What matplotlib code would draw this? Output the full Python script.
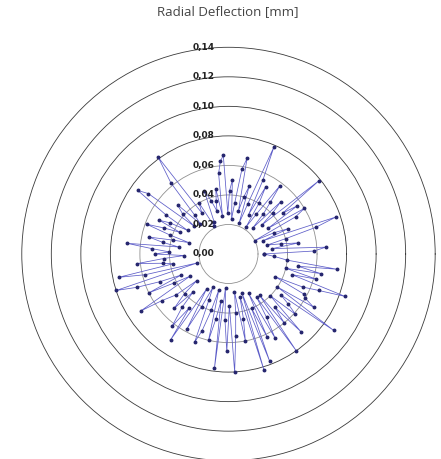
import numpy as np
import matplotlib
matplotlib.use("Agg")
import matplotlib.pyplot as plt
from matplotlib.transforms import ScaledTranslation

# Messwerte: Winkel [Grad] und radiale Auslenkung [mm]
angle_deg = [0, 2, 4, 7, 9, 11, 13, 15, 17, 19,
             21, 23, 25, 27, 29, 31, 33, 35, 37, 39,
             41, 43, 45, 47, 49, 51, 53, 55, 57, 59,
             61, 63, 65, 67, 69, 71, 73, 75, 77, 79,
             81, 83, 85, 87, 89, 91, 93, 95, 97, 99,
             101, 103, 105, 108, 111, 114, 117, 120, 123, 126,
             129, 131, 133, 136, 139, 141, 143, 145, 148, 150,
             152, 154, 156, 158, 160, 162, 164, 166, 168, 170,
             172, 174, 176, 178, 180, 182, 184, 186, 188, 190,
             192, 194, 196, 198, 200, 202, 204, 206, 208, 210,
             213, 215, 218, 220, 222, 225, 227, 229, 232, 234,
             236, 238, 241, 243, 245, 247, 249, 251, 253, 255,
             257, 259, 261, 263, 265, 267, 269, 271, 273, 275,
             277, 279, 281, 283, 285, 287, 289, 291, 293, 295,
             297, 299, 301, 303, 305, 307, 309, 311, 313, 315,
             318, 320, 322, 324, 326, 328, 330, 332, 334, 336,
             338, 340, 342, 344, 346, 348, 350, 352, 354, 357]
deflection = [0.024, 0.058, 0.066, 0.030, 0.048, 0.036, 0.027, 0.040, 0.062, 0.077,
              0.025, 0.044, 0.034, 0.020, 0.052, 0.060, 0.032, 0.057, 0.046, 0.079,
              0.030, 0.041, 0.050, 0.024, 0.036, 0.045, 0.058, 0.033, 0.022, 0.040,
              0.052, 0.030, 0.055, 0.079, 0.036, 0.022, 0.048, 0.040, 0.030, 0.066,
              0.058, 0.035, 0.024, 0.050, 0.043, 0.028, 0.067, 0.063, 0.055, 0.026,
              0.045, 0.037, 0.030, 0.038, 0.046, 0.024, 0.021, 0.040, 0.033, 0.081,
              0.062, 0.035, 0.028, 0.048, 0.041, 0.030, 0.068, 0.075, 0.050, 0.032,
              0.045, 0.052, 0.036, 0.047, 0.059, 0.042, 0.028, 0.039, 0.055, 0.045,
              0.034, 0.069, 0.052, 0.040, 0.050, 0.030, 0.044, 0.062, 0.045, 0.038,
              0.076, 0.058, 0.022, 0.080, 0.066, 0.050, 0.035, 0.060, 0.042, 0.030,
              0.071, 0.055, 0.045, 0.028, 0.040, 0.052, 0.035, 0.048, 0.062, 0.045,
              0.070, 0.028, 0.058, 0.040, 0.025, 0.034, 0.064, 0.055, 0.040, 0.025,
              0.060, 0.045, 0.032, 0.078, 0.023, 0.045, 0.066, 0.035, 0.080, 0.056,
              0.040, 0.026, 0.060, 0.045, 0.030, 0.082, 0.028, 0.078, 0.040, 0.062,
              0.030, 0.065, 0.050, 0.035, 0.080, 0.035, 0.060, 0.048, 0.072, 0.040,
              0.061, 0.053, 0.045, 0.088, 0.040, 0.068, 0.060, 0.058, 0.035, 0.055,
              0.066, 0.084, 0.045, 0.062, 0.040, 0.064, 0.048, 0.074, 0.040, 0.031]

ring_values = [0.00, 0.02, 0.04, 0.06, 0.08, 0.10, 0.12, 0.14]
ring_labels = ["0,00", "0,02", "0,04", "0,06", "0,08", "0,10", "0,12", "0,14"]

fig = plt.figure(figsize=(4.41, 4.59), dpi=100)
ax = fig.add_axes([0.0494, -0.0037, 0.9374, 0.9007], projection="polar")

theta = np.deg2rad(angle_deg + angle_deg[:1])
r = deflection + deflection[:1]
ax.plot(theta, r, color="#5c5cc8", lw=0.55, marker="o", markersize=1.8,
        markerfacecolor="#26266e", markeredgecolor="#26266e", zorder=3)

ax.set_ylim(0, 0.14)
ax.set_yticks(ring_values[1:-1])
ax.set_yticklabels([])
ax.set_xticks([])
ax.xaxis.grid(False)
ax.yaxis.grid(True, lw=0.6)
for val, gl in zip(ring_values[1:-1], ax.yaxis.get_gridlines()):
    gl.set_linestyle("-")
    gl.set_color("#909090" if val < 0.07 else "#3a3a3a")
ax.spines["polar"].set_color("#3a3a3a")
ax.spines["polar"].set_linewidth(0.6)

# Beschriftung der Ringe senkrecht über dem Mittelpunkt
offset = ax.transData + ScaledTranslation(-0.14, 0, fig.dpi_scale_trans)
for val, lab in zip(ring_values, ring_labels):
    ax.text(np.pi / 2, val, lab, transform=offset, ha="right", va="center",
            fontsize=6.5, fontweight="bold", color="#222222", zorder=4)

fig.text(0.517, 0.974, "Radial Deflection [mm]", ha="center", va="center",
         fontsize=9.5, family="Open Sans", color="#444444")

fig.savefig("out.png", dpi=100)
